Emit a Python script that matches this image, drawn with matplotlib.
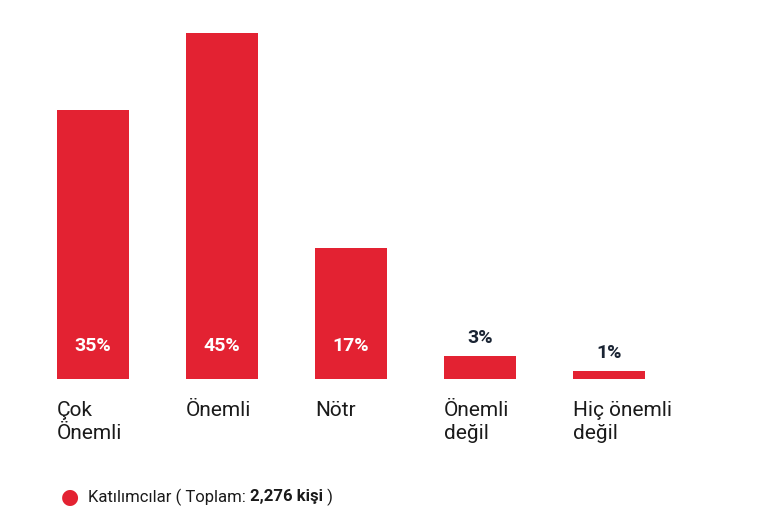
import matplotlib
matplotlib.use("Agg")
import matplotlib.pyplot as plt

plt.rcParams['font.family'] = ['Roboto', 'DejaVu Sans']

categories = ["Çok\nÖnemli", "Önemli", "Nötr", "Önemli\ndeğil", "Hiç önemli\ndeğil"]
values = [35, 45, 17, 3, 1]
RED = "#e32232"
NAVY = "#1a2433"

W, H = 768, 531
fig = plt.figure(figsize=(W / 100, H / 100), dpi=100)
ax = fig.add_axes([0, 152 / H, 1, (379 - 20) / H])
step = 129.0
ax.set_xlim(-93 / step, (W - 93) / step)
ax.set_ylim(0, 45 * 359 / 346)
ax.axis("off")

xs = list(range(len(values)))
ax.bar(xs, values, width=72 / step, color=RED)
for x, v, lab in zip(xs, values, categories):
    if v >= 10:
        ax.text(x, 33 * 45 / 346, f"{v}%", ha="center", va="center",
                color="white", fontsize=14, fontweight="bold")
    else:
        ax.text(x, v + 1.2, f"{v}%", ha="center", va="bottom",
                color=NAVY, fontsize=14, fontweight="bold")
    ax.text(x - 36 / step, -2.8, lab, ha="left", va="top", color="#1a1a1a",
            fontsize=15, linespacing=1.3)

fig.text(70 / W, 1 - 497 / H, "●", color=RED, fontsize=15, ha="center", va="center")
fig.text(88 / W, 1 - 497 / H, "Katılımcılar ( Toplam: ", color="#1a1a1a",
         fontsize=12, ha="left", va="center")
t = fig.text(0, 0, "")
fig.canvas.draw()
r = fig.canvas.get_renderer()
first = fig.texts[1].get_window_extent(r)
bold = fig.text(first.x1 / W, 1 - 497 / H, "2,276 kişi", color="#1a1a1a",
                fontsize=12, fontweight="bold", ha="left", va="center")
b = bold.get_window_extent(r)
fig.text(b.x1 / W, 1 - 497 / H, " )", color="#1a1a1a", fontsize=12,
         ha="left", va="center")

fig.savefig("out.png", dpi=100)
